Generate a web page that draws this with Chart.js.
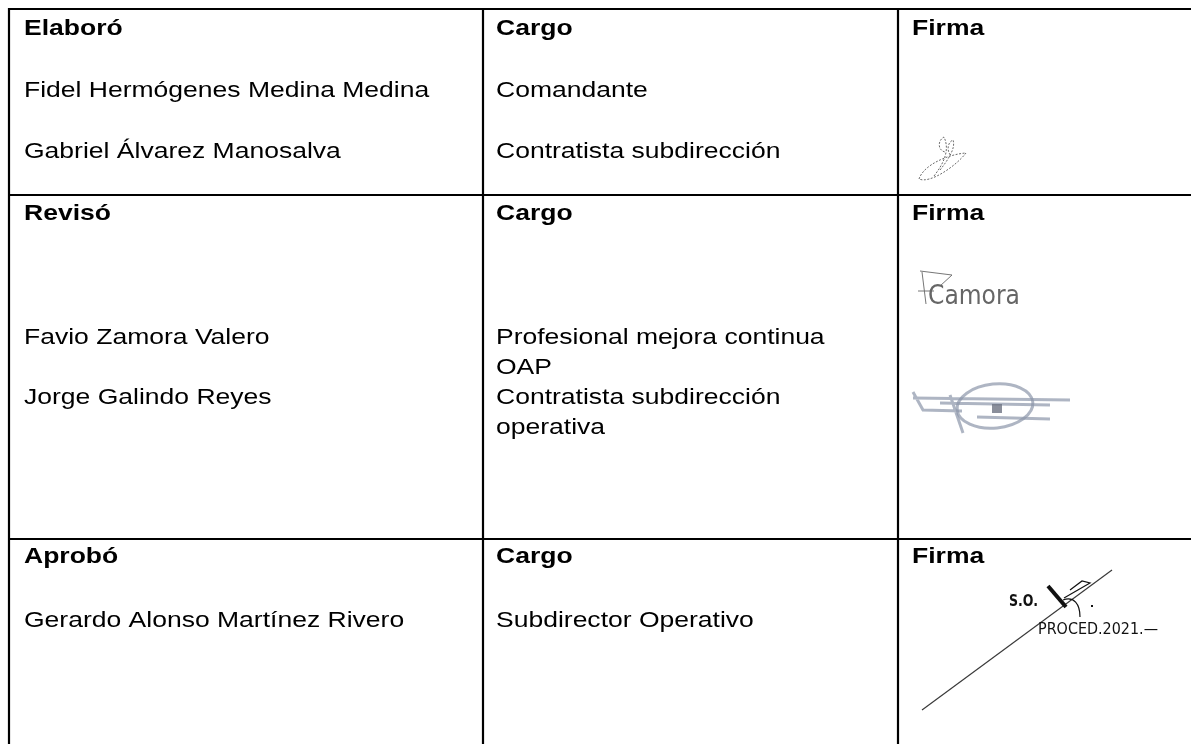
<!DOCTYPE html>
<html>
<head>
<meta charset="utf-8">
<script src="https://cdn.jsdelivr.net/npm/chart.js@4/dist/chart.umd.min.js"></script>
<style>
  html, body { margin: 0; background: #fff; }
  canvas { display: block; }
</style>
</head>
<body>
<canvas id="firmas" width="1191" height="744"></canvas>
<script>
// contenido de la tabla
const roles = ['Elaboró', 'Revisó', 'Aprobó'];
const headCargo = 'Cargo';
const headFirma = 'Firma';
const nombres = [
  ['Fidel Hermógenes Medina Medina', 'Gabriel Álvarez Manosalva'],
  ['Favio Zamora Valero', 'Jorge Galindo Reyes'],
  ['Gerardo Alonso Martínez Rivero']
];
const cargos = [
  [['Comandante'], ['Contratista subdirección']],
  [['Profesional mejora continua', 'OAP'], ['Contratista subdirección', 'operativa']],
  [['Subdirector Operativo']]
];
const selloTexto = ['S.O.', 'PROCED.2021.—'];

// layout, in page pixels
const W = 1191, H = 744;
const colLines = [9, 483, 898];
const rowLines = [9, 195, 539];
const textX = [24, 496, 912];
const headBase = [35, 220, 563];
const entryBase = [[97, 158], [344, 404], [627]];
const lineStep = 30;
const stretchX = 1.205;

// build the text anchor points
const celdas = [];
roles.forEach(function (r, i) {
  celdas.push({ x: textX[0], y: headBase[i], t: r, bold: true });
  celdas.push({ x: textX[1], y: headBase[i], t: headCargo, bold: true });
  celdas.push({ x: textX[2], y: headBase[i], t: headFirma, bold: true });
  nombres[i].forEach(function (n, j) {
    celdas.push({ x: textX[0], y: entryBase[i][j], t: n });
    cargos[i][j].forEach(function (c, k) {
      celdas.push({ x: textX[1], y: entryBase[i][j] + k * lineStep, t: c });
    });
  });
});

const tablaPlugin = {
  id: 'tabla',
  afterDatasetsDraw: function (chart) {
    const ctx = chart.ctx;
    const sx = chart.scales.x, sy = chart.scales.y;
    const px = function (v) { return sx.getPixelForValue(v); };
    const py = function (v) { return sy.getPixelForValue(v); };
    ctx.save();

    // grid lines
    ctx.strokeStyle = '#000';
    ctx.lineWidth = 2.2;
    ctx.beginPath();
    rowLines.forEach(function (y) {
      ctx.moveTo(px(colLines[0] - 1), py(y));
      ctx.lineTo(px(W), py(y));
    });
    colLines.forEach(function (x) {
      ctx.moveTo(px(x), py(rowLines[0] - 1));
      ctx.lineTo(px(x), py(H));
    });
    ctx.stroke();

    // text cells from the dataset elements
    const meta = chart.getDatasetMeta(0);
    ctx.fillStyle = '#000';
    ctx.textBaseline = 'alphabetic';
    meta.data.forEach(function (el, i) {
      const d = celdas[i];
      ctx.font = (d.bold ? 'bold ' : '') + '22px "Liberation Sans", Arial, sans-serif';
      ctx.save();
      ctx.translate(el.x, el.y);
      ctx.scale(stretchX, 1);
      ctx.fillText(d.t, 0, 0);
      ctx.restore();
    });

    // firma 1 (Álvarez): loop, dotted
    ctx.strokeStyle = '#6a6a6a';
    ctx.lineWidth = 1;
    ctx.setLineDash([2, 1.5]);
    ctx.beginPath();
    ctx.moveTo(px(919), py(179));
    ctx.bezierCurveTo(px(924), py(164), px(950), py(154), px(966), py(153));
    ctx.bezierCurveTo(px(956), py(166), px(930), py(184), px(919), py(179));
    ctx.moveTo(px(934), py(176));
    ctx.bezierCurveTo(px(944), py(163), px(950), py(150), px(944), py(137));
    ctx.bezierCurveTo(px(938), py(140), px(937), py(150), px(945), py(152));
    ctx.moveTo(px(940), py(170));
    ctx.bezierCurveTo(px(948), py(160), px(956), py(148), px(953), py(140));
    ctx.bezierCurveTo(px(948), py(142), px(946), py(150), px(951), py(156));
    ctx.stroke();
    ctx.setLineDash([]);

    // firma 2 (Zamora)
    ctx.strokeStyle = '#666';
    ctx.lineWidth = 0.9;
    ctx.beginPath();
    ctx.moveTo(px(920), py(271));
    ctx.lineTo(px(952), py(275));
    ctx.lineTo(px(940), py(286));
    ctx.moveTo(px(922), py(272));
    ctx.lineTo(px(926), py(304));
    ctx.moveTo(px(918), py(291));
    ctx.lineTo(px(934), py(291));
    ctx.stroke();
    ctx.fillStyle = '#666';
    ctx.font = '26px "DejaVu Sans", sans-serif';
    ctx.fillText('Camora', px(928), py(304), 92);

    // firma 3 (Galindo), soft blue-grey strokes
    ctx.strokeStyle = 'rgba(140,150,170,0.7)';
    ctx.lineWidth = 3;
    ctx.beginPath();
    ctx.moveTo(px(913), py(398));
    ctx.lineTo(px(1070), py(400));
    ctx.moveTo(px(940), py(403));
    ctx.lineTo(px(1050), py(405));
    ctx.moveTo(px(913), py(392));
    ctx.lineTo(px(923), py(410));
    ctx.lineTo(px(962), py(411));
    ctx.moveTo(px(950), py(395));
    ctx.lineTo(px(963), py(433));
    ctx.moveTo(px(977), py(417));
    ctx.lineTo(px(1050), py(419));
    ctx.stroke();
    ctx.beginPath();
    ctx.ellipse(px(995), py(406), 38, 22, -0.1, 0, Math.PI * 2);
    ctx.stroke();
    ctx.fillStyle = 'rgba(110,115,130,0.8)';
    ctx.fillRect(px(992), py(404), 10, 9);

    // firma 4 (Martínez)
    ctx.strokeStyle = '#3a3a3a';
    ctx.lineWidth = 1.2;
    ctx.beginPath();
    ctx.moveTo(px(922), py(710));
    ctx.lineTo(px(1112), py(570));
    ctx.stroke();
    ctx.lineWidth = 4;
    ctx.strokeStyle = '#111';
    ctx.beginPath();
    ctx.moveTo(px(1048), py(586));
    ctx.lineTo(px(1066), py(607));
    ctx.stroke();
    ctx.lineWidth = 1.2;
    ctx.beginPath();
    ctx.moveTo(px(1063), py(600));
    ctx.bezierCurveTo(px(1074), py(596), px(1080), py(604), px(1080), py(617));
    ctx.moveTo(px(1064), py(598));
    ctx.lineTo(px(1090), py(583));
    ctx.lineTo(px(1082), py(581));
    ctx.lineTo(px(1070), py(590));
    ctx.stroke();
    ctx.fillStyle = '#111';
    ctx.fillRect(px(1091), py(605), 2, 2);
    ctx.font = 'bold 16px "DejaVu Sans", sans-serif';
    ctx.fillText(selloTexto[0], px(1009), py(606), 29);
    ctx.font = '15px "DejaVu Sans", sans-serif';
    ctx.fillText(selloTexto[1], px(1038), py(634), 120);

    ctx.restore();
  }
};

new Chart(document.getElementById('firmas'), {
  type: 'scatter',
  data: {
    datasets: [{
      label: 'celdas',
      data: celdas,
      pointRadius: 0,
      pointHoverRadius: 0
    }]
  },
  options: {
    responsive: false,
    animation: false,
    events: [],
    layout: { padding: 0 },
    plugins: { legend: { display: false }, tooltip: { enabled: false } },
    scales: {
      x: { type: 'linear', min: 0, max: W, display: false },
      y: { type: 'linear', min: 0, max: H, reverse: true, display: false }
    }
  },
  plugins: [tablaPlugin]
});
</script>
</body>
</html>
